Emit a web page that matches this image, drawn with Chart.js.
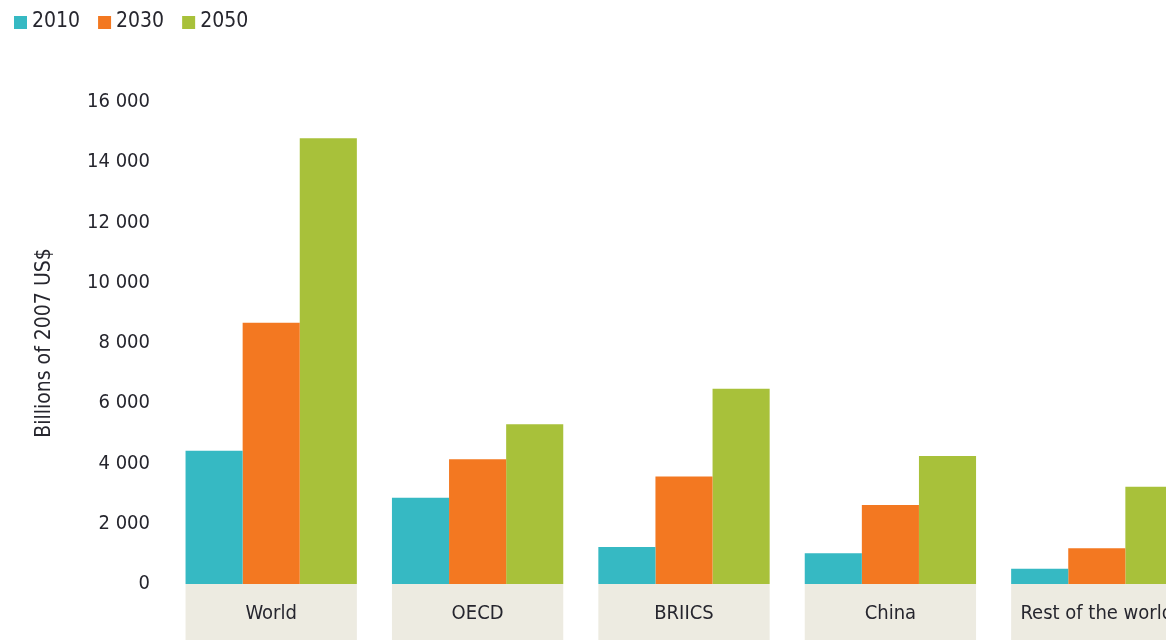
<!DOCTYPE html>
<html>
<head>
<meta charset="utf-8">
<script src="https://cdn.jsdelivr.net/npm/chart.js@4"></script>
<style>
    html, body { margin: 0; padding: 0; background: #fff; overflow: hidden; }
    #wrap { width: 1200px; height: 640px; }
</style>
</head>
<body>
<div id="wrap"><canvas id="costChart" width="1200" height="640"></canvas></div>
<script>
const regions = ["World", "OECD", "BRIICS", "China", "Rest of the world"];
const years = ["2010", "2030", "2050"];
const values2010 = [4420, 2860, 1230, 1020, 510];
const values2030 = [8670, 4140, 3570, 2620, 1190];
const values2050 = [14800, 5300, 6480, 4250, 3230];
const yTicks = [0, 2000, 4000, 6000, 8000, 10000, 12000, 14000, 16000];

const colors = ["#36b9c3", "#f37821", "#a8c13a"];
const textColor = "#26262e";
const fontFamily = "'DejaVu Sans Condensed', 'Liberation Sans Narrow', sans-serif";
const fontSize = 20;
const catPct = 0.83;

function spaced(v) {
    return String(v).replace(/\B(?=(\d{3})+(?!\d))/g, " ");
}

// beige label strips under each group of bars
const labelStrips = {
    id: "labelStrips",
    beforeDraw(chart) {
        const { ctx, chartArea, scales } = chart;
        const x = scales.x;
        const groupW = (x.width / regions.length) * catPct;
        ctx.save();
        ctx.fillStyle = "#edebe1";
        regions.forEach((r, i) => {
            const cx = x.getPixelForValue(i);
            ctx.fillRect(cx - groupW / 2, chartArea.bottom, groupW, chart.height - chartArea.bottom);
        });
        ctx.restore();
    }
};

// small square legend in the top-left corner
const cornerLegend = {
    id: "cornerLegend",
    afterDraw(chart) {
        const ctx = chart.ctx;
        ctx.save();
        ctx.font = (fontSize + 1) + "px " + fontFamily;
        ctx.textBaseline = "middle";
        let x = 14;
        chart.data.datasets.forEach(ds => {
            ctx.fillStyle = ds.backgroundColor;
            ctx.fillRect(x, 16, 13, 13);
            ctx.fillStyle = textColor;
            ctx.fillText(ds.label, x + 18, 22);
            x += 18 + ctx.measureText(ds.label).width + 18;
        });
        ctx.restore();
    }
};

new Chart(document.getElementById("costChart"), {
    type: "bar",
    data: {
        labels: regions,
        datasets: [
            { label: years[0], data: values2010, backgroundColor: colors[0] },
            { label: years[1], data: values2030, backgroundColor: colors[1] },
            { label: years[2], data: values2050, backgroundColor: colors[2] }
        ]
    },
    options: {
        responsive: false,
        devicePixelRatio: 1,
        animation: false,
        layout: { padding: { top: 102, right: 0, bottom: 0, left: 0 } },
        datasets: {
            bar: { categoryPercentage: catPct, barPercentage: 1, borderWidth: 0 }
        },
        plugins: {
            legend: { display: false },
            tooltip: { enabled: false }
        },
        scales: {
            x: {
                grid: { display: false, drawTicks: false },
                border: { display: false },
                ticks: {
                    color: textColor,
                    padding: 18,
                    font: { family: fontFamily, size: fontSize }
                },
                afterFit(scale) { scale.height = 56; }
            },
            y: {
                min: 0,
                max: 16000,
                grid: { display: false, drawTicks: false },
                border: { display: false },
                afterBuildTicks(scale) {
                    scale.ticks = yTicks.map(v => ({ value: v }));
                },
                ticks: {
                    color: textColor,
                    padding: 18,
                    font: { family: fontFamily, size: fontSize },
                    callback: v => spaced(v)
                },
                title: {
                    display: true,
                    text: "Billions of 2007 US$",
                    color: textColor,
                    font: { family: fontFamily, size: fontSize + 1 },
                    padding: { top: 32, bottom: 0 }
                },
                afterFit(scale) { scale.width = 168; }
            }
        }
    },
    plugins: [labelStrips, cornerLegend]
});
</script>
</body>
</html>
